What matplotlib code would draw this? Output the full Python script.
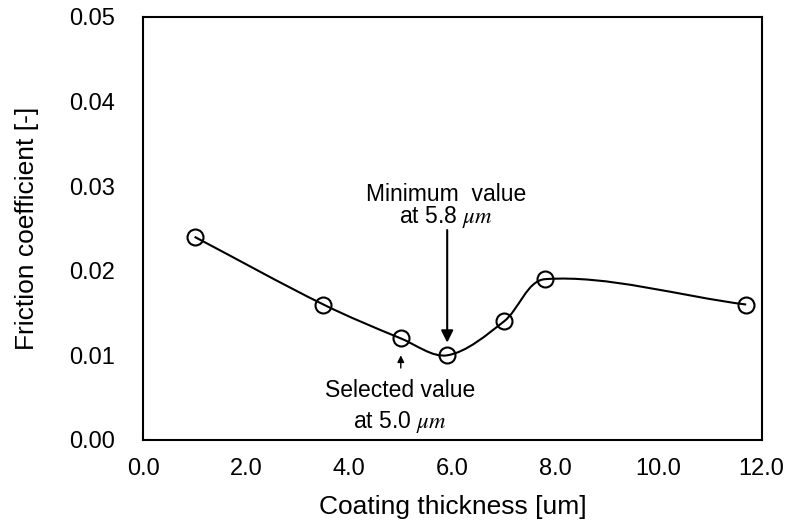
import numpy as np
import matplotlib
matplotlib.use("Agg")
import matplotlib.pyplot as plt
from matplotlib.path import Path
from matplotlib.patches import PathPatch
from matplotlib.ticker import FormatStrFormatter

thickness = [1.0, 3.5, 5.0, 5.9, 7.0, 7.8, 11.7]
friction = [0.024, 0.016, 0.012, 0.010, 0.014, 0.019, 0.016]
x_ticks = [0, 2, 4, 6, 8, 10, 12]
y_ticks = [0.0, 0.01, 0.02, 0.03, 0.04, 0.05]

plt.rcParams['font.family'] = ['Liberation Sans', 'DejaVu Sans']
plt.rcParams['mathtext.fontset'] = 'stix'

fig = plt.figure(figsize=(7.86, 5.25), dpi=100)
ax = fig.add_axes([0.182, 0.162, 0.787, 0.806])
ax.set_xlim(0, 12)
ax.set_ylim(0, 0.05)

# smoothed line (spreadsheet-like Bezier smoothing computed in display space)
P = ax.transData.transform(np.column_stack([thickness, friction]))
n = len(P)
t = 1.0 / 3.0
ctrl_in = [None] * n
ctrl_out = [None] * n
for i in range(n):
    p0 = P[i - 1] if i > 0 else P[i]
    p1 = P[i]
    p2 = P[i + 1] if i + 1 < n else P[i]
    d01 = np.hypot(*(p1 - p0))
    d12 = np.hypot(*(p2 - p1))
    tot = d01 + d12
    fa = t * d01 / tot
    fb = t * d12 / tot
    ctrl_in[i] = p1 - fa * (p2 - p0)
    ctrl_out[i] = p1 + fb * (p2 - p0)
verts = [P[0]]
codes = [Path.MOVETO]
for i in range(n - 1):
    verts += [ctrl_out[i], ctrl_in[i + 1], P[i + 1]]
    codes += [Path.CURVE4] * 3
verts = ax.transData.inverted().transform(np.array(verts))
ax.add_patch(PathPatch(Path(verts, codes), facecolor='none', edgecolor='black', lw=1.5, zorder=2))

ax.plot(thickness, friction, linestyle='none', marker='o', markersize=11.5,
        markerfacecolor='none', markeredgecolor='black', markeredgewidth=1.5, zorder=3)

ax.set_xticks(x_ticks)
ax.set_yticks(y_ticks)
ax.xaxis.set_major_formatter(FormatStrFormatter('%.1f'))
ax.yaxis.set_major_formatter(FormatStrFormatter('%.2f'))
ax.tick_params(length=0, labelsize=17)
ax.tick_params(axis='x', pad=13)
ax.tick_params(axis='y', pad=20)
for s in ax.spines.values():
    s.set_linewidth(1.5)

ax.set_xlabel('Coating thickness [um]', fontsize=19, labelpad=11)
ax.set_ylabel('Friction coefficient [-]', fontsize=19, labelpad=22)

ax.annotate('', xy=(5.9, 0.0115), xytext=(5.9, 0.0248),
            arrowprops=dict(arrowstyle='-|>', color='black', lw=1.5, mutation_scale=18,
                            shrinkA=0, shrinkB=0))
ax.text(5.88, 0.0290, 'Minimum  value', ha='center', va='center', fontsize=16.5)
ax.text(5.88, 0.0263, r'at 5.8 $\mu m$', ha='center', va='center', fontsize=16.5)

ax.annotate('', xy=(5.0, 0.0100), xytext=(5.0, 0.0085),
            arrowprops=dict(arrowstyle='-|>', color='black', lw=1.0, mutation_scale=10,
                            shrinkA=0, shrinkB=0))
ax.text(4.98, 0.0059, 'Selected value', ha='center', va='center', fontsize=16.5)
ax.text(4.98, 0.0021, r'at 5.0 $\mu m$', ha='center', va='center', fontsize=16.5)

fig.savefig('out.png', dpi=100)
